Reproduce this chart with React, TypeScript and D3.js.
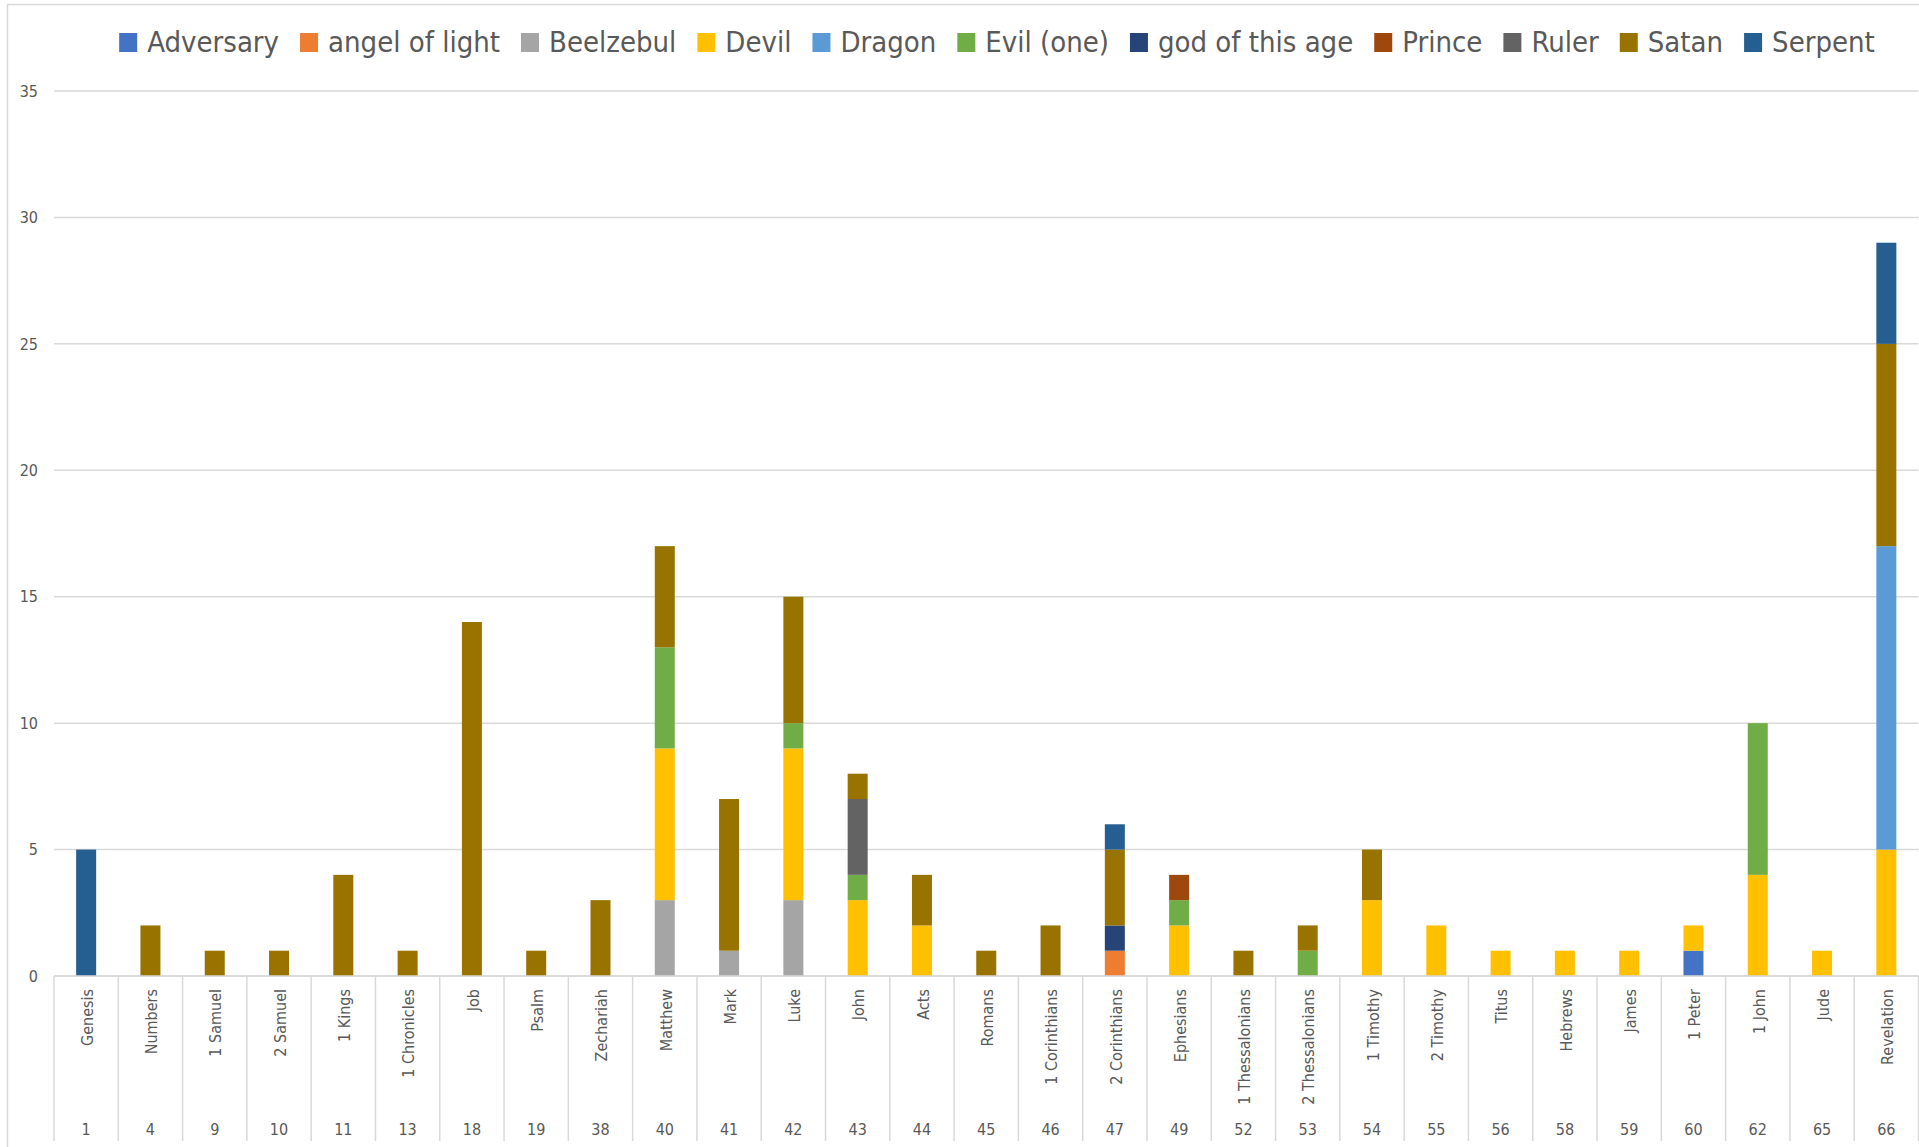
import React, { useEffect, useRef } from 'react';
import * as d3 from 'd3';

// books (category level 1) and their number in the canon (category level 2)
const books = [
  'Genesis', 'Numbers', '1 Samuel', '2 Samuel', '1 Kings', '1 Chronicles', 'Job', 'Psalm',
  'Zechariah', 'Matthew', 'Mark', 'Luke', 'John', 'Acts', 'Romans', '1 Corinthians',
  '2 Corinthians', 'Ephesians', '1 Thessalonians', '2 Thessalonians', '1 Timothy',
  '2 Timothy', 'Titus', 'Hebrews', 'James', '1 Peter', '1 John', 'Jude', 'Revelation',
];
const bookNumbers = [1, 4, 9, 10, 11, 13, 18, 19, 38, 40, 41, 42, 43, 44, 45, 46, 47, 49, 52, 53, 54, 55, 56, 58, 59, 60, 62, 65, 66];

const seriesNames = [
  'Adversary', 'angel of light', 'Beelzebul', 'Devil', 'Dragon', 'Evil (one)',
  'god of this age', 'Prince', 'Ruler', 'Satan', 'Serpent',
];
const seriesColors = [
  '#4472C4', '#ED7D31', '#A5A5A5', '#FFC000', '#5B9BD5', '#70AD47',
  '#264478', '#9E480E', '#636363', '#997300', '#255E91',
];

// one value per book, same order as books
const adversary = [0, 0, 0, 0, 0, 0, 0, 0, 0, 0, 0, 0, 0, 0, 0, 0, 0, 0, 0, 0, 0, 0, 0, 0, 0, 1, 0, 0, 0];
const angelOfLight = [0, 0, 0, 0, 0, 0, 0, 0, 0, 0, 0, 0, 0, 0, 0, 0, 1, 0, 0, 0, 0, 0, 0, 0, 0, 0, 0, 0, 0];
const beelzebul = [0, 0, 0, 0, 0, 0, 0, 0, 0, 3, 1, 3, 0, 0, 0, 0, 0, 0, 0, 0, 0, 0, 0, 0, 0, 0, 0, 0, 0];
const devil = [0, 0, 0, 0, 0, 0, 0, 0, 0, 6, 0, 6, 3, 2, 0, 0, 0, 2, 0, 0, 3, 2, 1, 1, 1, 1, 4, 1, 5];
const dragon = [0, 0, 0, 0, 0, 0, 0, 0, 0, 0, 0, 0, 0, 0, 0, 0, 0, 0, 0, 0, 0, 0, 0, 0, 0, 0, 0, 0, 12];
const evilOne = [0, 0, 0, 0, 0, 0, 0, 0, 0, 4, 0, 1, 1, 0, 0, 0, 0, 1, 0, 1, 0, 0, 0, 0, 0, 0, 6, 0, 0];
const godOfThisAge = [0, 0, 0, 0, 0, 0, 0, 0, 0, 0, 0, 0, 0, 0, 0, 0, 1, 0, 0, 0, 0, 0, 0, 0, 0, 0, 0, 0, 0];
const prince = [0, 0, 0, 0, 0, 0, 0, 0, 0, 0, 0, 0, 0, 0, 0, 0, 0, 1, 0, 0, 0, 0, 0, 0, 0, 0, 0, 0, 0];
const ruler = [0, 0, 0, 0, 0, 0, 0, 0, 0, 0, 0, 0, 3, 0, 0, 0, 0, 0, 0, 0, 0, 0, 0, 0, 0, 0, 0, 0, 0];
const satan = [0, 2, 1, 1, 4, 1, 14, 1, 3, 4, 6, 5, 1, 2, 1, 2, 3, 0, 1, 1, 2, 0, 0, 0, 0, 0, 0, 0, 8];
const serpent = [5, 0, 0, 0, 0, 0, 0, 0, 0, 0, 0, 0, 0, 0, 0, 0, 1, 0, 0, 0, 0, 0, 0, 0, 0, 0, 0, 0, 4];

const yTicks = [0, 5, 10, 15, 20, 25, 30, 35];

const App = () => {
  const ref = useRef<SVGSVGElement>(null);

  useEffect(() => {
    drawChart();
  }, []);

  const drawChart = () => {
    const svg = d3.select(ref.current);
    svg.selectAll('*').remove();

    const textColor = '#595959';
    const gridColor = '#D9D9D9';
    const font = '"DejaVu Sans Condensed", "DejaVu Sans", sans-serif';

    // plot area
    const left = 54;
    const right = 1918.5;
    const top = 91;
    const bottom = 976;

    // build rows for d3.stack
    const allSeries = [adversary, angelOfLight, beelzebul, devil, dragon, evilOne, godOfThisAge, prince, ruler, satan, serpent];
    const rows = books.map((b, i) => {
      const row: any = { book: b };
      seriesNames.forEach((s, j) => { row[s] = allSeries[j][i]; });
      return row;
    });
    const stacked = d3.stack().keys(seriesNames)(rows);

    const x = d3.scaleBand().domain(books).range([left, right]).padding(0);
    const y = d3.scaleLinear().domain([0, 35]).range([bottom, top]);
    const barW = 20;

    // chart border
    svg.append('rect')
      .attr('x', 7.5).attr('y', 4.5)
      .attr('width', 2000).attr('height', 1300)
      .attr('fill', 'none').attr('stroke', gridColor).attr('stroke-width', 1.5);

    // gridlines + y labels
    svg.append('g').selectAll('line')
      .data(yTicks)
      .enter().append('line')
      .attr('x1', left).attr('x2', right)
      .attr('y1', d => y(d)).attr('y2', d => y(d))
      .attr('stroke', gridColor).attr('stroke-width', 1.5);

    svg.append('g').selectAll('text')
      .data(yTicks)
      .enter().append('text')
      .attr('x', 38).attr('y', d => y(d))
      .attr('dy', '0.36em')
      .attr('text-anchor', 'end')
      .attr('font-family', font).attr('font-size', 16)
      .attr('fill', textColor)
      .text(d => d);

    // bars
    svg.append('g').selectAll('g')
      .data(stacked)
      .enter().append('g')
      .attr('fill', (d, i) => seriesColors[i])
      .selectAll('rect')
      .data(d => d.filter(v => v[1] - v[0] > 0))
      .enter().append('rect')
      .attr('x', d => (x(d.data.book) as number) + x.bandwidth() / 2 - barW / 2)
      .attr('y', d => y(d[1]))
      .attr('width', barW)
      .attr('height', d => y(d[0]) - y(d[1]));

    // category axis: line, dividers, two label rows
    const axis = svg.append('g');
    axis.append('line')
      .attr('x1', left).attr('x2', right)
      .attr('y1', bottom).attr('y2', bottom)
      .attr('stroke', gridColor).attr('stroke-width', 1.5);

    const edges = books.map(b => x(b) as number).concat([right]);
    axis.selectAll('.divider')
      .data(edges)
      .enter().append('line')
      .attr('class', 'divider')
      .attr('x1', d => d).attr('x2', d => d)
      .attr('y1', bottom).attr('y2', 1141)
      .attr('stroke', gridColor).attr('stroke-width', 1.5);

    axis.selectAll('.name')
      .data(books)
      .enter().append('text')
      .attr('class', 'name')
      .attr('transform', d => `translate(${(x(d) as number) + x.bandwidth() / 2 + 1}, 989) rotate(-90)`)
      .attr('dy', '0.36em')
      .attr('text-anchor', 'end')
      .attr('font-family', font).attr('font-size', 16)
      .attr('fill', textColor)
      .text(d => d);

    axis.selectAll('.num')
      .data(books)
      .enter().append('text')
      .attr('class', 'num')
      .attr('x', d => (x(d) as number) + x.bandwidth() / 2)
      .attr('y', 1135)
      .attr('text-anchor', 'middle')
      .attr('font-family', font).attr('font-size', 16)
      .attr('fill', textColor)
      .text((d, i) => bookNumbers[i]);

    // legend, laid out by measured text width and centred
    const legend = svg.append('g');
    const items = legend.selectAll('g')
      .data(seriesNames)
      .enter().append('g');
    items.append('rect')
      .attr('y', 33).attr('width', 18).attr('height', 19)
      .attr('fill', (d, i) => seriesColors[i]);
    items.append('text')
      .attr('x', 28).attr('y', 52)
      .attr('font-family', font).attr('font-size', 29)
      .attr('fill', textColor)
      .text(d => d);

    let cursor = 0;
    items.each(function () {
      const g = d3.select(this);
      const w = (g.select('text').node() as SVGTextElement).getComputedTextLength();
      g.attr('transform', `translate(${cursor},0)`);
      cursor += 28 + w + 21;
    });
    const total = cursor - 21;
    legend.attr('transform', `translate(${997 - total / 2},0)`);
  };

  return (
    <svg
      ref={ref}
      width={1919}
      height={1147}
      style={{ position: 'absolute', left: 0, top: 0, background: '#fff' }}
    />
  );
};

export default App;
